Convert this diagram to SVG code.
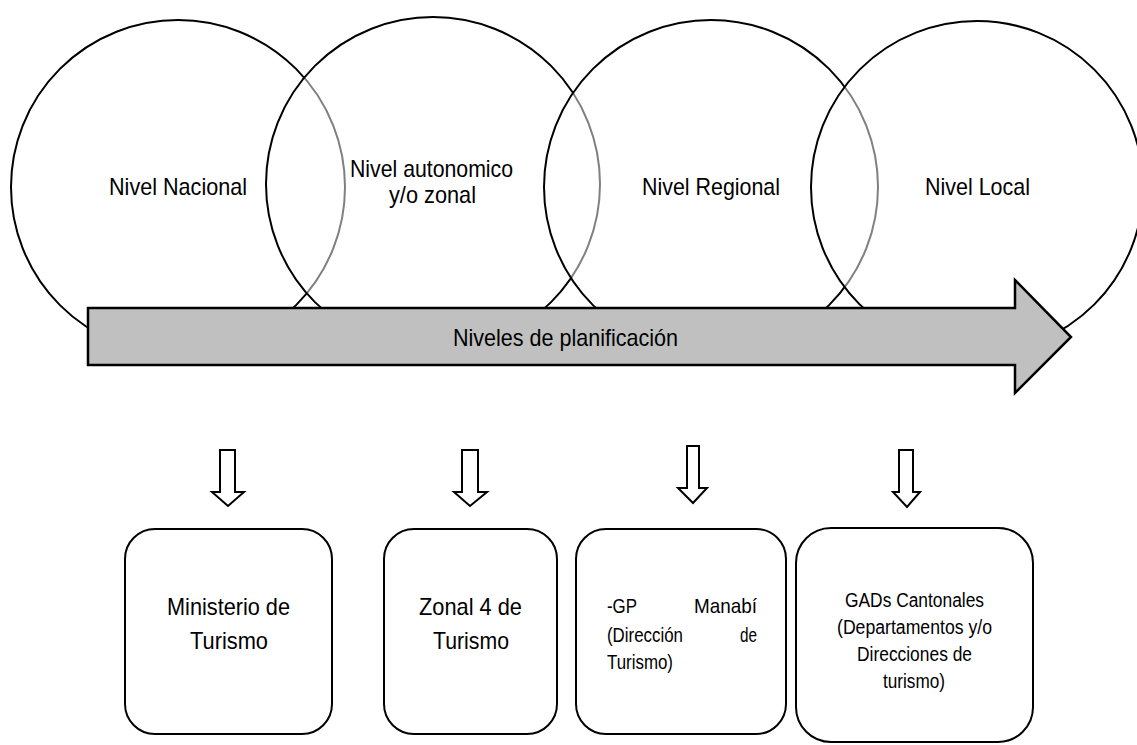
<svg xmlns="http://www.w3.org/2000/svg" width="1137" height="745" viewBox="0 0 1137 745">
<style>
.c{fill:#fff;fill-opacity:0.5;stroke:#000;stroke-width:2}
.c1{fill:#fff;stroke:#000;stroke-width:2}
.t{font-family:"Liberation Sans",Arial,sans-serif;fill:#000}
.box{fill:#fff;stroke:#000;stroke-width:2}
.da{fill:#fff;stroke:#000;stroke-width:2;stroke-linejoin:miter}
.big{fill:#c0c0c0;stroke:#000;stroke-width:2.5;stroke-linejoin:miter}
</style>
<rect width="1137" height="745" fill="#fff"/>
<g id="circles">
<circle id="c-nacional" class="c1" cx="178" cy="187" r="167"/>
<circle id="c-autonomico" class="c" cx="433" cy="184" r="167"/>
<circle id="c-regional" class="c" cx="711" cy="187" r="167"/>
<circle id="c-local" class="c" cx="977" cy="187" r="166"/>
</g>
<g id="arrow-niveles">
<path class="big" d="M88,308 H1015 V280 L1071,337 L1015,393 V365 H88 Z"/>
<text class="t" x="453" y="346" font-size="24" textLength="225" lengthAdjust="spacingAndGlyphs">Niveles de planificación</text>
</g>
<g id="label-nacional"><text class="t" x="109" y="195" font-size="24" textLength="138" lengthAdjust="spacingAndGlyphs">Nivel Nacional</text></g>
<g id="label-autonomico">
<text class="t" x="350" y="177" font-size="24" textLength="163" lengthAdjust="spacingAndGlyphs">Nivel autonomico</text>
<text class="t" x="389" y="203" font-size="24" textLength="87" lengthAdjust="spacingAndGlyphs">y/o zonal</text>
</g>
<g id="label-regional"><text class="t" x="642" y="195" font-size="24" textLength="138" lengthAdjust="spacingAndGlyphs">Nivel Regional</text></g>
<g id="label-local"><text class="t" x="925" y="195" font-size="24" textLength="105" lengthAdjust="spacingAndGlyphs">Nivel Local</text></g>
<g id="connectors">
<path class="da" d="M220,450 H235 V492 H244 L228,506 L212,492 H220 Z"/>
<path class="da" d="M462,450 H478 V492 H487 L470,506 L454,492 H462 Z"/>
<path class="da" d="M687,446 H699 V488 H707 L693,503 L678,488 H687 Z"/>
<path class="da" d="M899,450 H913 V492 H920 L907,507 L893,492 H899 Z"/>
</g>
<g id="box-ministerio">
<rect class="box" x="125" y="529" width="207" height="205" rx="30"/>
<text class="t" x="167" y="615" font-size="24" textLength="123" lengthAdjust="spacingAndGlyphs">Ministerio de</text>
<text class="t" x="190" y="649" font-size="24" textLength="78" lengthAdjust="spacingAndGlyphs">Turismo</text>
</g>
<g id="box-zonal">
<rect class="box" x="384" y="529" width="173" height="205" rx="30"/>
<text class="t" x="419" y="615" font-size="24" textLength="103" lengthAdjust="spacingAndGlyphs">Zonal 4 de</text>
<text class="t" x="433" y="649" font-size="24" textLength="76" lengthAdjust="spacingAndGlyphs">Turismo</text>
</g>
<g id="box-gp">
<rect class="box" x="576" y="529" width="210" height="205" rx="30"/>
<text class="t" x="607" y="613" font-size="21" textLength="30" lengthAdjust="spacingAndGlyphs">-GP</text>
<text class="t" x="694" y="613" font-size="21" textLength="63" lengthAdjust="spacingAndGlyphs">Manabí</text>
<text class="t" x="607" y="642" font-size="21" textLength="76" lengthAdjust="spacingAndGlyphs">(Dirección</text>
<text class="t" x="740" y="642" font-size="21" textLength="17" lengthAdjust="spacingAndGlyphs">de</text>
<text class="t" x="607" y="669" font-size="21" textLength="66" lengthAdjust="spacingAndGlyphs">Turismo)</text>
</g>
<g id="box-gads">
<rect class="box" x="796" y="528" width="237" height="214" rx="35"/>
<text class="t" x="845" y="607" font-size="20" textLength="139" lengthAdjust="spacingAndGlyphs">GADs Cantonales</text>
<text class="t" x="837" y="634" font-size="20" textLength="155" lengthAdjust="spacingAndGlyphs">(Departamentos y/o</text>
<text class="t" x="857" y="661" font-size="20" textLength="115" lengthAdjust="spacingAndGlyphs">Direcciones de</text>
<text class="t" x="883" y="688" font-size="20" textLength="62" lengthAdjust="spacingAndGlyphs">turismo)</text>
</g>
</svg>
